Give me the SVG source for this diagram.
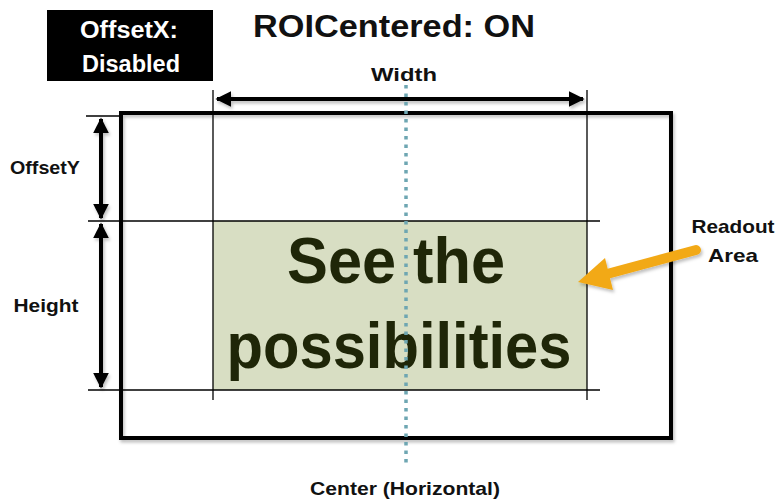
<svg xmlns="http://www.w3.org/2000/svg" width="779" height="500" viewBox="0 0 779 500">
<style>
.t{font-family:"Liberation Sans",Arial,sans-serif;font-weight:bold;fill:#111}
.thin{stroke:#000;stroke-width:1.3;fill:none}
.dim{stroke:#000;stroke-width:4;fill:none}
</style>
<defs>
<marker id="ah" viewBox="0 0 10 10" refX="9" refY="5" markerWidth="4" markerHeight="4" orient="auto-start-reverse" markerUnits="strokeWidth">
<path d="M0,0 L10,5 L0,10 z" fill="#000"/>
</marker>
<filter id="sh" filterUnits="userSpaceOnUse" x="0" y="0" width="779" height="500">
<feDropShadow dx="1.5" dy="2.5" stdDeviation="1.5" flood-color="#000" flood-opacity="0.25"/>
</filter>
</defs>

<g id="offsetx-box">
<rect x="47" y="10" width="166" height="71" fill="#000"/>
<text class="t" x="129" y="38" font-size="23" text-anchor="middle" textLength="98" lengthAdjust="spacingAndGlyphs" style="fill:#fff">OffsetX:</text>
<text class="t" x="131" y="72" font-size="23" text-anchor="middle" textLength="98" lengthAdjust="spacingAndGlyphs" style="fill:#fff">Disabled</text>
</g>

<g id="title">
<text class="t" x="394" y="37" font-size="32" text-anchor="middle" textLength="282" lengthAdjust="spacingAndGlyphs">ROICentered: ON</text>
</g>

<g id="readout-area">
<rect x="213" y="221" width="374" height="169" fill="#d8dec3"/>
<text class="t" x="396" y="283" font-size="64" text-anchor="middle" textLength="218" lengthAdjust="spacingAndGlyphs" style="fill:#1f2608">See the</text>
<text class="t" x="399" y="368" font-size="64" text-anchor="middle" textLength="345" lengthAdjust="spacingAndGlyphs" style="fill:#1f2608">possibilities</text>
</g>

<g id="sensor-frame">
<rect x="121" y="113" width="550" height="325" fill="none" stroke="#000" stroke-width="4" filter="url(#sh)"/>
</g>

<g id="connectors">
<line class="thin" x1="213" y1="90" x2="213" y2="400"/>
<line class="thin" x1="587" y1="90" x2="587" y2="400"/>
<line class="thin" x1="86" y1="116" x2="120" y2="116"/>
<line class="thin" x1="88" y1="221" x2="600" y2="221"/>
<line class="thin" x1="88" y1="390" x2="600" y2="390"/>
<line class="dim" x1="217" y1="99" x2="583" y2="99" marker-start="url(#ah)" marker-end="url(#ah)" filter="url(#sh)"/>
<line class="dim" x1="101" y1="119" x2="101" y2="218" marker-start="url(#ah)" marker-end="url(#ah)" filter="url(#sh)"/>
<line class="dim" x1="101" y1="224" x2="101" y2="387" marker-start="url(#ah)" marker-end="url(#ah)" filter="url(#sh)"/>
<line x1="406" y1="85" x2="406" y2="463" stroke="#6ea6b2" stroke-width="3.5" stroke-dasharray="3.5,5"/>
<g filter="url(#sh)">
<line x1="696" y1="250" x2="607" y2="274" stroke="#f2a918" stroke-width="10" stroke-linecap="round"/>
<polygon points="578,282 605,258 613,290" fill="#f2a918"/>
</g>
</g>

<g id="labels">
<text class="t" x="404" y="81" font-size="19" text-anchor="middle" textLength="66" lengthAdjust="spacingAndGlyphs">Width</text>
<text class="t" x="45" y="174" font-size="19" text-anchor="middle" textLength="70" lengthAdjust="spacingAndGlyphs">OffsetY</text>
<text class="t" x="46" y="312" font-size="19" text-anchor="middle" textLength="65" lengthAdjust="spacingAndGlyphs">Height</text>
<text class="t" x="733" y="233" font-size="19" text-anchor="middle" textLength="83" lengthAdjust="spacingAndGlyphs">Readout</text>
<text class="t" x="733" y="262" font-size="19" text-anchor="middle" textLength="50" lengthAdjust="spacingAndGlyphs">Area</text>
<text class="t" x="405" y="495" font-size="19" text-anchor="middle" textLength="190" lengthAdjust="spacingAndGlyphs">Center (Horizontal)</text>
</g>
</svg>
